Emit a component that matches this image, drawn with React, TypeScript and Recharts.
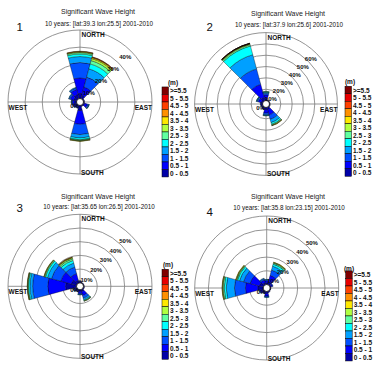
import { PolarAngleAxis, PolarGrid, PolarRadiusAxis, RadialBar, RadialBarChart, Sector } from "recharts";

const directions = ["N", "30", "60", "E", "120", "150", "S", "210", "240", "W", "300", "330"];

const heightClasses = [
  "0 - 0.5", "0.5 - 1", "1 - 1.5", "1.5 - 2", "2 - 2.5", "2.5 - 3",
  "3 - 3.5", "3.5 - 4", "4 - 4.5", "4.5 - 5", "5 - 5.5", ">=5.5",
];

const classColors = [
  "#0000a8", "#0000ff", "#0050ff", "#00a0ff", "#00ffff", "#60ffa0",
  "#b0ff40", "#ffe800", "#ff9000", "#ff4000", "#e80000", "#800000",
];

// frequency (%) per direction, one column per height class (missing = none)
const rose1 = [
  [3, 9, 9, 3.5, 1.5, 0.8, 0.4, 0.2, 0.2],
  [2, 5, 6, 5, 3, 2, 1.2, 0.6, 0.3, 0.2],
  [0.3, 0.3],
  [0.3, 0.2],
  [1, 1.5, 0.7, 0.3, 0.1],
  [0.4, 0.3],
  [3, 8, 6, 2, 1, 0.5, 0.3, 0.2],
  [0.8, 0.8, 0.3],
  [1.2, 1, 0.4],
  [1.2, 1.2, 0.5, 0.2],
  [1.8, 2, 0.8, 0.3],
  [2.5, 3, 1, 0.4],
];

const rose2 = [
  [2, 3, 1.5, 0.8, 0.5, 0.3],
  [0.4, 0.3],
  [0.3, 0.2],
  [0.3, 0.2],
  [0.4, 0.3],
  [2, 5, 4, 3, 1.5, 0.8, 0.4, 0.2],
  [2, 3, 1.5, 0.7, 0.3],
  [0.8, 1, 0.4],
  [0.6, 0.6, 0.2],
  [0.8, 0.8, 0.3],
  [1.5, 2.5, 1.2, 0.5, 0.2],
  [3, 12, 14, 13, 8, 1.2, 0.6, 0.3, 0.2, 0.1, 0.05, 0.05],
];

const rose3 = [
  [0.6, 0.6, 0.3],
  [0.3, 0.2],
  [0.3, 0.2],
  [0.3, 0.2],
  [0.4, 0.4],
  [1.5, 3, 2, 1.2, 0.6, 0.3, 0.2],
  [1.2, 1.5, 0.8, 0.3],
  [0.8, 0.8, 0.3],
  [1.2, 1, 0.5, 0.2],
  [8, 13, 11, 2, 1, 0.5, 0.3, 0.2],
  [4, 8, 7, 3, 1.5, 0.7, 0.4, 0.2],
  [2, 5, 5, 3, 2, 1.2, 0.8, 0.4, 0.2],
];

const rose4 = [
  [1.2, 1.5, 0.8, 0.3],
  [2, 5, 4, 3, 1.5, 0.8, 0.5, 0.2],
  [0.8, 1, 0.5],
  [0.3, 0.2],
  [0.3, 0.2],
  [0.5, 0.5],
  [1.5, 1.8, 0.8, 0.3],
  [0.8, 0.8, 0.3],
  [1.2, 1.5, 0.6],
  [4, 9, 8, 6, 1.5, 0.8, 0.4, 0.3],
  [3, 7, 5, 3, 1.5, 0.7, 0.5, 0.3],
  [1.5, 2, 1, 0.4],
];

const subtitles = [
  "10 years: [lat:39.3 lon:25.5]  2001-2010",
  "10 years: [lat:37.9 lon:25.6]  2001-2010",
  "10 years: [lat:35.65 lon:26.5]  2001-2010",
  "10 years: [lat:35.8 lon:23.15]  2001-2010",
];

const ringCounts = [4, 6, 5, 5];

const FONT = "'Liberation Sans', Arial, sans-serif";
const HOLE = 3.5;

type PanelProps = {
  num: number;
  left: number;
  top: number;
  cx: number;
  cy: number;
  outer: number;
  rose: number[][];
  subtitle: string;
  rings: number;
  titleY: number;
  subY: number;
  numY: number;
  boxX: number;
  rowY: number;
  mX: number;
  mY: number;
};

function buildRows(rose: number[][]) {
  return directions.map((dir, d) => {
    const row: Record<string, string | number | null> = { dir };
    heightClasses.forEach((_, c) => {
      row[`h${c}`] = rose[d][c] ?? null;
    });
    return row;
  });
}

// skip empty stack pieces so they don't leave black outline arcs
function RoseSector(props: any) {
  const { cx, cy, innerRadius, outerRadius, startAngle, endAngle, fill, stroke, strokeWidth } = props;
  if (!(outerRadius - innerRadius > 0.05)) return <g />;
  return (
    <Sector
      cx={cx}
      cy={cy}
      innerRadius={innerRadius}
      outerRadius={outerRadius}
      startAngle={startAngle}
      endAngle={endAngle}
      fill={fill}
      stroke={stroke}
      strokeWidth={strokeWidth}
    />
  );
}

function RosePanel(p: PanelProps) {
  const rows = buildRows(p.rose);
  const step = (p.outer - HOLE) / p.rings;
  const ringRadii = Array.from({ length: p.rings }, (_, k) => HOLE + step * (k + 1));
  const d45 = Math.SQRT1_2;

  return (
    <div style={{ position: "absolute", left: p.left, top: p.top, width: 190, height: 183, overflow: "hidden" }}>
      <RadialBarChart
        width={190}
        height={183}
        data={rows}
        layout="centric"
        cx={p.cx}
        cy={p.cy}
        innerRadius={HOLE}
        outerRadius={p.outer}
        startAngle={75}
        endAngle={-285}
        barCategoryGap={0}
        barGap={0}
        margin={{ top: 0, right: 0, bottom: 0, left: 0 }}
      >
        <PolarGrid
          gridType="circle"
          polarAngles={[0, 90, 180, 270]}
          polarRadius={ringRadii}
          stroke="#7a7a7a"
          strokeWidth={0.8}
        />
        <PolarAngleAxis type="category" dataKey="dir" tick={false} axisLine={false} />
        <PolarRadiusAxis type="number" domain={[0, p.rings * 10]} tick={false} axisLine={false} />
        {heightClasses.map((cls, c) => (
          <RadialBar
            key={cls}
            dataKey={`h${c}`}
            stackId="rose"
            fill={classColors[c]}
            stroke="#000"
            strokeWidth={0.35}
            shape={RoseSector}
            isAnimationActive={false}
          />
        ))}
      </RadialBarChart>

      <svg
        width={190}
        height={183}
        style={{ position: "absolute", left: 0, top: 0, pointerEvents: "none", fontFamily: FONT, whiteSpace: "pre" }}
      >
        <circle cx={p.cx} cy={p.cy} r={HOLE} fill="#fff" stroke="#000" strokeWidth={0.8} />

        <text x={98} y={p.titleY} fontSize={7} fill="#222" textAnchor="middle" dominantBaseline="central">
          Significant Wave Height
        </text>
        <text x={99} y={p.subY} fontSize={6.3} fill="#111" textAnchor="middle" dominantBaseline="central">
          {p.subtitle}
        </text>
        <text x={16.5} y={p.numY} fontSize={11.5} fill="#111">
          {p.num}
        </text>

        <g fontSize={6.5} fontWeight="bold" fill="#111" dominantBaseline="central">
          <text x={p.cx + 1.5} y={p.cy - p.outer + 4.5}>NORTH</text>
          <text x={p.cx + 1} y={p.cy + p.outer - 2}>SOUTH</text>
          <text x={p.cx - p.outer + 0.5} y={p.cy + 5.5}>WEST</text>
          <text x={p.cx + p.outer} y={p.cy + 5.5} textAnchor="end">EAST</text>
        </g>

        <g fontSize={6} fontWeight="bold" fill="#111" textAnchor="middle" dominantBaseline="central">
          <text x={p.cx - 5.5} y={p.cy + 4}>0%</text>
          {ringRadii.map((r, k) => (
            <text key={k} x={p.cx + (r - 8) * d45} y={p.cy - (r - 8) * d45}>
              {`${(k + 1) * 10}%`}
            </text>
          ))}
        </g>

        <text x={p.mX} y={p.mY} fontSize={6.5} fontWeight="bold" fill="#111" textAnchor="middle" dominantBaseline="central">
          (m)
        </text>
        {heightClasses
          .map((cls, c) => ({ cls, color: classColors[c] }))
          .reverse()
          .map((item, i) => (
            <g key={item.cls}>
              <rect
                x={p.boxX}
                y={p.rowY + i * 7.5 - 3.75}
                width={6.5}
                height={7.5}
                fill={item.color}
                stroke="#000"
                strokeWidth={0.5}
              />
              <text
                x={p.boxX + 8}
                y={p.rowY + i * 7.5}
                fontSize={6.5}
                fontWeight="bold"
                fill="#111"
                dominantBaseline="central"
              >
                {item.cls}
              </text>
            </g>
          ))}
      </svg>
    </div>
  );
}

export default function App() {
  return (
    <div style={{ position: "absolute", left: 0, top: 0, width: 380, height: 366, background: "#fff", overflow: "hidden" }}>
      <RosePanel num={1} left={0} top={0} cx={80} cy={102} outer={72} rose={rose1} subtitle={subtitles[0]}
        rings={ringCounts[0]} titleY={11} subY={23.3} numY={30.7} boxX={162} rowY={90.7} mX={173} mY={82} />
      <RosePanel num={2} left={190} top={0} cx={76} cy={104} outer={71.4} rose={rose2} subtitle={subtitles[1]}
        rings={ringCounts[1]} titleY={13.7} subY={24.3} numY={30.7} boxX={155} rowY={90} mX={160} mY={81} />
      <RosePanel num={3} left={0} top={183} cx={80} cy={103.3} outer={72} rose={rose3} subtitle={subtitles[2]}
        rings={ringCounts[2]} titleY={13.3} subY={23.3} numY={29.3} boxX={162} rowY={90} mX={168} mY={81.7} />
      <RosePanel num={4} left={190} top={183} cx={76.7} cy={105} outer={72} rose={rose4} subtitle={subtitles[3]}
        rings={ringCounts[3]} titleY={13.7} subY={24.3} numY={33.3} boxX={155.7} rowY={91.7} mX={159} mY={85.7} />
    </div>
  );
}
